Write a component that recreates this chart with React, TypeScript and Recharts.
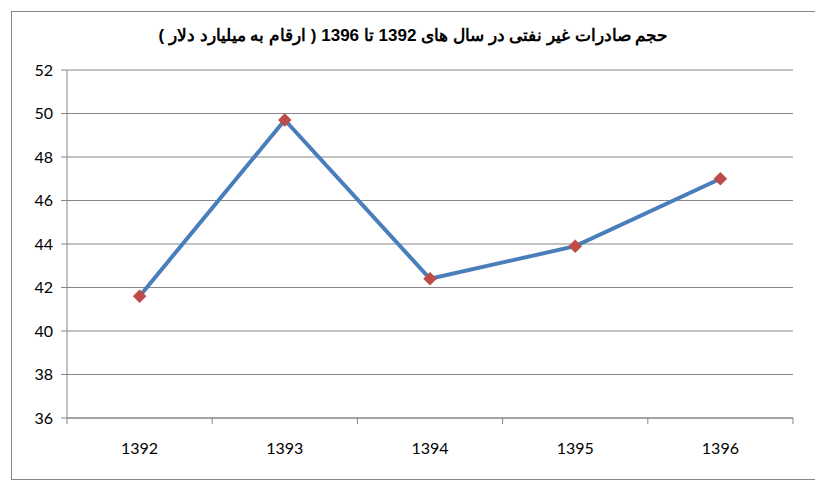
import React from "react";
import { LineChart, Line, XAxis, YAxis, CartesianGrid } from "recharts";

const categories = ["1392", "1393", "1394", "1395", "1396"];
const values = [41.6, 49.7, 42.4, 43.9, 47.0];
const yTicks = [36, 38, 40, 42, 44, 46, 48, 50, 52];
const xTicks = [0, 0.5, 1, 1.5, 2, 2.5, 3, 3.5, 4, 4.5, 5];

const data = categories.map((c, i) => ({ x: i + 0.5, name: c, value: values[i] }));

const title = "حجم صادرات غیر نفتی در سال های 1392 تا 1396 ( ارقام به میلیارد دلار )";

const XTick = (props: any) => {
  const { x, y, payload } = props;
  const v = payload.value;
  if (Number.isInteger(v)) {
    return <line x1={x} x2={x} y1={y - 8} y2={y - 2} stroke="#868686" strokeWidth={1} />;
  }
  return (
    <text x={x} y={y + 28} textAnchor="middle" fontFamily="Lato, 'Open Sans', sans-serif" fontSize={16} fill="#000">
      {categories[Math.floor(v)]}
    </text>
  );
};

const Diamond = (props: any) => {
  const { cx, cy } = props;
  if (cx == null || cy == null) return null;
  const r = 6.5;
  return (
    <polygon
      points={`${cx},${cy - r} ${cx + r},${cy} ${cx},${cy + r} ${cx - r},${cy}`}
      fill="#be4b48"
      stroke="#b04441"
      strokeWidth={0.5}
    />
  );
};

export default function App() {
  return (
    <div
      style={{
        position: "relative",
        width: 803,
        height: 467,
        margin: "3px 0 0 3px",
        border: "1px solid #868686",
        background: "#fff",
      }}
    >
      <div
        style={{
          position: "absolute",
          top: 13,
          left: 0,
          width: 803,
          textAlign: "center",
          direction: "rtl",
          fontFamily: "'Liberation Sans', Arial, sans-serif",
          fontWeight: "bold",
          fontSize: 17,
          color: "#000",
        }}
      >
        {title}
      </div>
      <LineChart width={803} height={467} data={data} margin={{ top: 58, right: 22, bottom: 11, left: 0 }}>
        <CartesianGrid vertical={false} stroke="#868686" strokeWidth={1} />
        <XAxis
          dataKey="x"
          type="number"
          domain={[0, 5]}
          ticks={xTicks}
          interval={0}
          height={50}
          stroke="#868686"
          tickLine={false}
          tick={<XTick />}
        />
        <YAxis
          domain={[36, 52]}
          ticks={yTicks}
          interval={0}
          width={55}
          stroke="#868686"
          tickSize={6}
          tickMargin={8}
          tick={{ fill: "#000", fontSize: 16, fontFamily: "Lato, 'Open Sans', sans-serif" }}
        />
        <Line
          dataKey="value"
          stroke="#4a7ebb"
          strokeWidth={4}
          dot={<Diamond />}
          activeDot={false}
          isAnimationActive={false}
        />
      </LineChart>
    </div>
  );
}
